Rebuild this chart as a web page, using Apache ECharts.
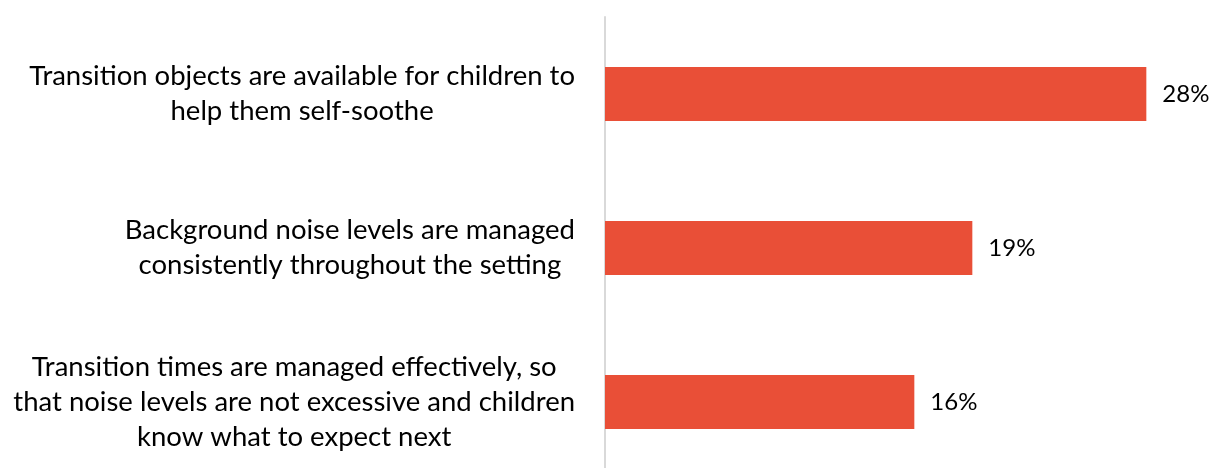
<!DOCTYPE html>
<html>
<head>
<meta charset="utf-8">
<style>
  html, body { margin: 0; padding: 0; background: #ffffff; overflow: hidden; }
  /* canvas is a little taller than the window so the plot area can run past its lower edge */
  #chart { width: 1210px; height: 484px; }
</style>
<script src="https://cdn.jsdelivr.net/npm/echarts@6/dist/echarts.min.js"></script>
</head>
<body>
<div id="chart"></div>
<script>
// Practices in place, share of settings (%)
const categories = [
  'Transition objects are available for children to\nhelp them self-soothe',
  'Background noise levels are managed\nconsistently throughout the setting',
  'Transition times are managed effectively, so\nthat noise levels are not excessive and children\nknow what to expect next'
];
const shares = [28, 19, 16];

const FONT = 'Lato';
const BAR_COLOR = '#E94F37';
const LABEL_SIZE = 27.5;
const LABEL_LINE = 35;

const chart = echarts.init(document.getElementById('chart'), null, { renderer: 'canvas' });

chart.setOption({
  animation: false,
  backgroundColor: '#ffffff',
  grid: { left: 605, width: 580, top: 17, height: 462, containLabel: false },
  xAxis: {
    type: 'value',
    min: 0,
    max: 30,
    show: false
  },
  yAxis: {
    type: 'category',
    data: categories,
    inverse: true,
    axisLine: { show: true, lineStyle: { color: '#d9d9d9', width: 2 } },
    axisTick: { show: false },
    splitLine: { show: false },
    axisLabel: {
      margin: 30,
      align: 'right',
      color: '#000000',
      fontFamily: FONT,
      fontSize: LABEL_SIZE,
      lineHeight: LABEL_LINE,
      // each line centred inside the right-aligned label block
      formatter: function (value) {
        return value.split('\n').map(function (line) { return '{c|' + line + '}'; }).join('\n');
      },
      rich: {
        c: { align: 'center', fontFamily: FONT, fontSize: LABEL_SIZE, lineHeight: LABEL_LINE, color: '#000000' }
      }
    }
  },
  series: [{
    type: 'bar',
    data: shares,
    barWidth: 54,
    itemStyle: { color: BAR_COLOR },
    label: {
      show: true,
      position: 'right',
      distance: 16,
      color: '#000000',
      fontFamily: FONT,
      fontSize: 24,
      formatter: '{c}%'
    }
  }]
});
</script>
</body>
</html>
